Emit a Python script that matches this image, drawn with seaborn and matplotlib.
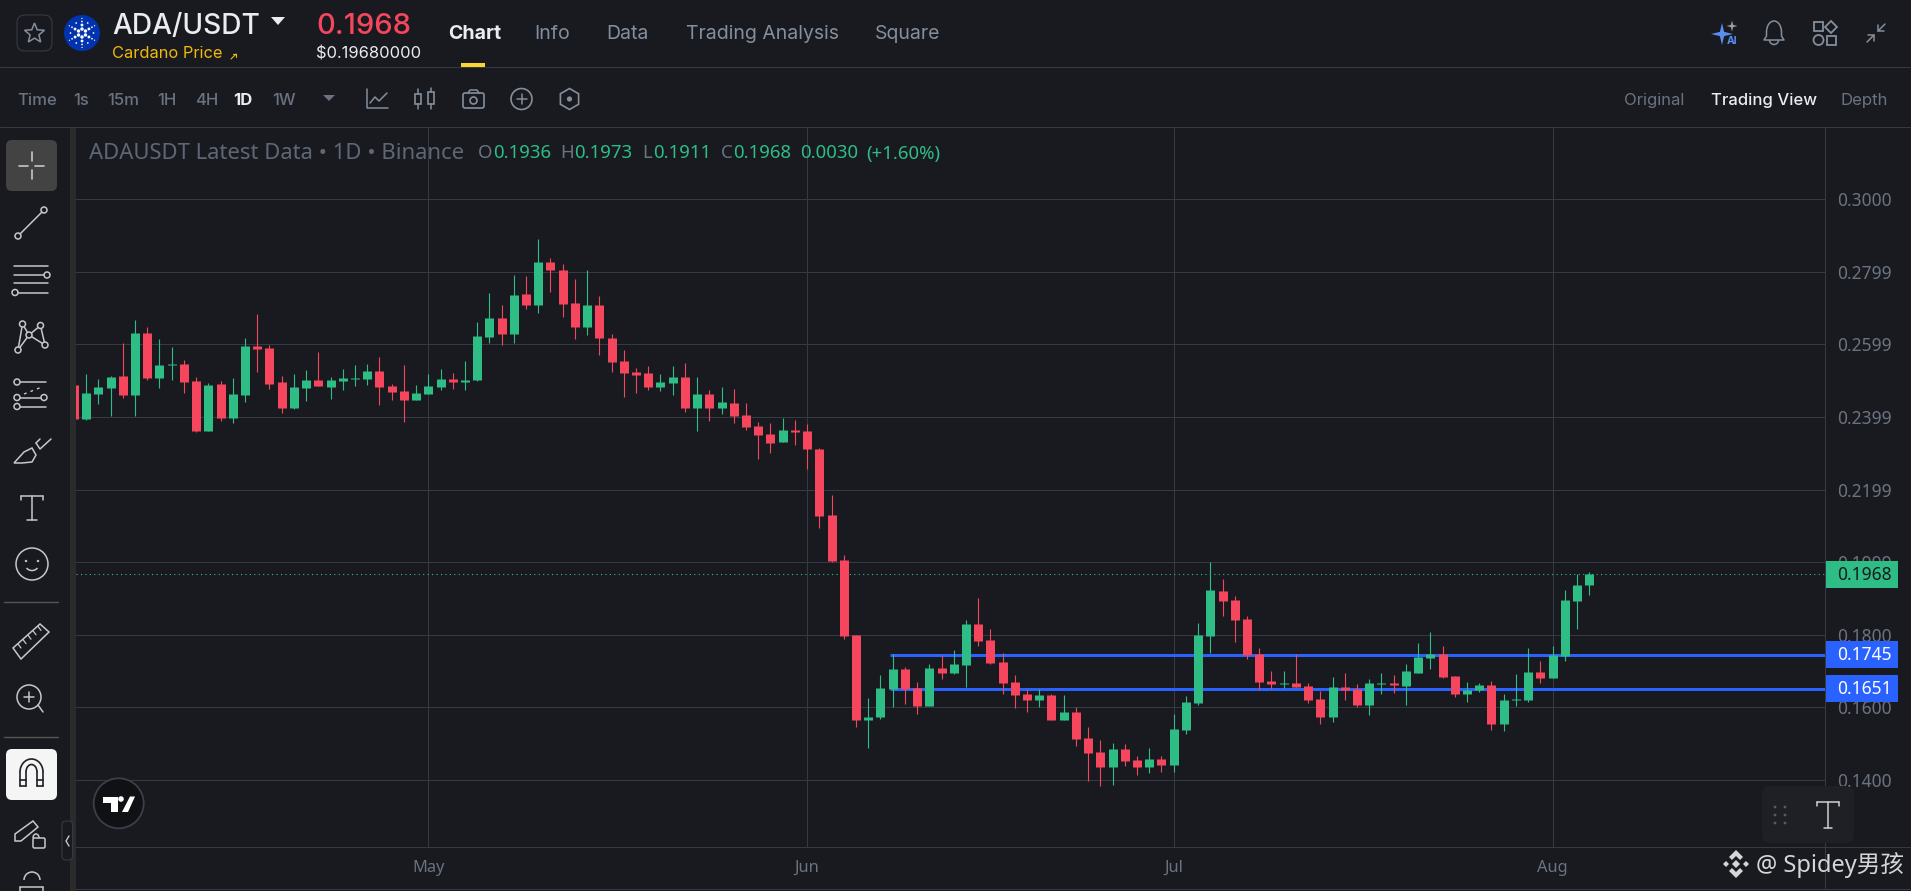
import numpy as np
import pandas as pd
import matplotlib
matplotlib.use("Agg")
import matplotlib.pyplot as plt
from matplotlib.patches import Circle, FancyBboxPatch, Polygon, Rectangle, Arc
import seaborn as sns

# daily ADA/USDT candles
open_prices = [.2487, .2394, .2463, .2479, .2512, .2460, .2630, .2507, .2542, .2545,
               .2498, .2361, .2490, .2397, .2460, .2595, .2589, .2496, .2424, .2479,
               .2501, .2482, .2498, .2504, .2504, .2526, .2485, .2471, .2446, .2463,
               .2482, .2504, .2496, .2501, .2619, .2672, .2628, .2738, .2707, .2826,
               .2804, .2713, .2647, .2707, .2617, .2553, .2523, .2520, .2482, .2493,
               .2509, .2424, .2463, .2424, .2438, .2405, .2375, .2353, .2331, .2364,
               .2361, .2311, .2130, .2006, .1800, .1566, .1574, .1651, .1706, .1654,
               .1604, .1709, .1695, .1717, .1830, .1786, .1725, .1670, .1637, .1621,
               .1635, .1566, .1588, .1516, .1478, .1436, .1486, .1456, .1436, .1458,
               .1442, .1539, .1613, .1797, .1921, .1896, .1844, .1748, .1674, .1665,
               .1668, .1660, .1624, .1575, .1657, .1652, .1608, .1665, .1668, .1660,
               .1696, .1737, .1748, .1687, .1638, .1649, .1663, .1555, .1621, .1621,
               .1698, .1682, .1742, .1894, .1936]
close_prices = [.2394, .2465, .2482, .2509, .2460, .2630, .2507, .2542, .2545, .2496,
                .2361, .2487, .2397, .2463, .2595, .2586, .2490, .2424, .2482, .2501,
                .2485, .2501, .2507, .2507, .2526, .2482, .2468, .2446, .2465, .2485,
                .2504, .2496, .2501, .2622, .2672, .2628, .2735, .2707, .2826, .2804,
                .2710, .2647, .2707, .2617, .2551, .2520, .2515, .2482, .2496, .2509,
                .2424, .2463, .2424, .2441, .2402, .2372, .2350, .2328, .2364, .2358,
                .2311, .2127, .2003, .1797, .1566, .1574, .1654, .1706, .1651, .1604,
                .1709, .1695, .1720, .1830, .1783, .1723, .1668, .1635, .1621, .1635,
                .1566, .1588, .1513, .1475, .1436, .1486, .1453, .1436, .1458, .1442,
                .1541, .1615, .1800, .1924, .1894, .1841, .1745, .1671, .1665, .1668,
                .1657, .1621, .1575, .1657, .1649, .1608, .1668, .1668, .1663, .1701,
                .1740, .1748, .1685, .1638, .1649, .1663, .1555, .1621, .1624, .1698,
                .1682, .1745, .1896, .1938, .1968]
high_prices = [.2490, .2518, .2504, .2512, .2603, .2666, .2647, .2614, .2592, .2556,
               .2509, .2493, .2498, .2507, .2617, .2683, .2597, .2512, .2518, .2529,
               .2578, .2509, .2531, .2542, .2545, .2564, .2490, .2542, .2487, .2518,
               .2531, .2520, .2553, .2661, .2740, .2707, .2790, .2787, .2889, .2837,
               .2820, .2779, .2806, .2732, .2628, .2584, .2534, .2540, .2518, .2540,
               .2548, .2509, .2474, .2482, .2476, .2438, .2386, .2383, .2397, .2391,
               .2380, .2314, .2185, .2020, .1800, .1626, .1690, .1747, .1712, .1670,
               .1720, .1745, .1758, .1841, .1901, .1816, .1750, .1690, .1651, .1651,
               .1637, .1635, .1601, .1546, .1511, .1502, .1500, .1467, .1489, .1467,
               .1582, .1632, .1833, .2001, .1954, .1907, .1852, .1764, .1701, .1701,
               .1748, .1668, .1646, .1685, .1696, .1665, .1679, .1696, .1690, .1720,
               .1778, .1808, .1770, .1687, .1671, .1668, .1674, .1638, .1693, .1764,
               .1729, .1770, .1924, .1968, .1973]
low_prices = [.2390, .2391, .2435, .2402, .2452, .2402, .2501, .2479, .2501, .2465,
              .2358, .2361, .2388, .2383, .2441, .2523, .2476, .2410, .2421, .2443,
              .2485, .2449, .2474, .2485, .2487, .2432, .2446, .2386, .2446, .2463,
              .2474, .2476, .2474, .2498, .2603, .2597, .2603, .2696, .2685, .2743,
              .2674, .2614, .2625, .2570, .2523, .2454, .2465, .2474, .2471, .2460,
              .2413, .2361, .2388, .2408, .2383, .2364, .2284, .2300, .2331, .2322,
              .2256, .2094, .2000, .1789, .1546, .1489, .1568, .1601, .1610, .1582,
              .1604, .1678, .1692, .1656, .1769, .1720, .1637, .1599, .1588, .1601,
              .1566, .1566, .1494, .1398, .1384, .1387, .1439, .1414, .1420, .1423,
              .1423, .1528, .1608, .1751, .1852, .1781, .1734, .1649, .1652, .1654,
              .1657, .1613, .1555, .1561, .1621, .1602, .1580, .1638, .1641, .1608,
              .1696, .1707, .1682, .1630, .1616, .1643, .1539, .1536, .1605, .1616,
              .1668, .1682, .1729, .1817, .1911]

first_day = "2026-04-02"
month_days = ["2026-05-01", "2026-06-01", "2026-07-01", "2026-08-01"]
month_labels = ["May", "Jun", "Jul", "Aug"]
price_ticks = [.30, .28, .26, .24, .22, .20, .18, .16, .14]
price_labels = ["0.3000", "0.2799", "0.2599", "0.2399", "0.2199", "0.1999", "0.1800", "0.1600", "0.1400"]
level_prices = [.1745, .1651]
level_labels = ["0.1745", "0.1651"]
last_price = .1968

BG = "#181A20"
GRID = "#363A45"
UP = "#2EBD85"
DOWN = "#F6465D"
BLUE = "#2962FF"
MUTED = "#848E9C"
AXIS_TEXT = "#6C7380"
ICON = "#C4C7CC"
W, H = 1911, 891

sns.set_theme(style="dark", rc={"axes.facecolor": BG, "figure.facecolor": BG})
plt.rcParams["font.family"] = ["Noto Sans", "Noto Sans CJK SC", "DejaVu Sans"]


def candle_frame(first, second):
    dates = pd.date_range(first_day, periods=len(open_prices))
    side = np.where(np.array(close_prices) >= np.array(open_prices), "up", "down")
    return pd.DataFrame({
        "date": np.tile(dates, 2),
        "price": np.concatenate([first, second]),
        "side": np.tile(side, 2),
    })


fig = plt.figure(figsize=(W / 100, H / 100), dpi=100)
ax = fig.add_axes([76 / W, (H - 847) / H, (1825 - 76) / W, (847 - 128) / H])
palette = {"up": UP, "down": DOWN}

# wicks and bodies are both vertical lines, one per day
sns.lineplot(data=candle_frame(low_prices, high_prices), x="date", y="price", units="date",
             hue="side", palette=palette, estimator=None, sort=False, legend=False, ax=ax,
             linewidth=0.8, solid_capstyle="butt", zorder=3)
sns.lineplot(data=candle_frame(open_prices, close_prices), x="date", y="price", units="date",
             hue="side", palette=palette, estimator=None, sort=False, legend=False, ax=ax,
             linewidth=6.48, solid_capstyle="butt", zorder=4)

may_first = pd.Timestamp(month_days[0])
ax.set_xlim(may_first - pd.Timedelta(days=28.83), may_first + pd.Timedelta(days=114.3))
ax.set_ylim(.12156, .31958)
ax.set(xlabel="", ylabel="")
ax.set_xticks(pd.to_datetime(month_days))
ax.set_xticklabels(month_labels, fontsize=11.8, fontweight="bold", color=AXIS_TEXT)
ax.set_yticks(price_ticks)
ax.set_yticklabels(price_labels, fontsize=12.5, color=AXIS_TEXT)
ax.yaxis.tick_right()
ax.tick_params(axis="y", length=0, pad=8.6)
ax.tick_params(axis="x", length=0, pad=9)
ax.grid(True, color=GRID, linewidth=0.72, zorder=0)
ax.set_axisbelow(True)
for name, spine in ax.spines.items():
    spine.set_visible(name in ("right", "bottom"))
    spine.set_color(GRID)
    spine.set_linewidth(0.72)

ax.hlines(level_prices, pd.Timestamp("2026-06-07 18:00"), ax.get_xlim()[1], colors=BLUE, linewidth=2.16, zorder=2)
ax.axhline(last_price, color=UP, linewidth=0.8, linestyle=(0, (1, 3)), zorder=2.5)

# everything around the chart goes on an overlay in pixel coordinates
ui = fig.add_axes([0, 0, 1, 1], zorder=5)
ui.set_xlim(0, W)
ui.set_ylim(H, 0)
ui.axis("off")
ui.patch.set_alpha(0)


def label(x, y, text, size, color=MUTED, weight="normal", ha="left", family=None, va="baseline"):
    kw = {"family": family} if family else {}
    return ui.text(x, y, text, fontsize=size, color=color, fontweight=weight, ha=ha, va=va, **kw)


def stroke(xs, ys, color=ICON, lw=1.1, **kw):
    ui.plot(xs, ys, color=color, linewidth=lw, solid_capstyle="round", **kw)


def ring(x, y, r, color=ICON, lw=1.1, fill="none"):
    ui.add_patch(Circle((x, y), r, edgecolor=color, facecolor=fill, linewidth=lw, zorder=2.5))


def box(x0, y0, x1, y1, color, r=4, edge="none", lw=0, zorder=0.5):
    ui.add_patch(FancyBboxPatch((x0, y0), x1 - x0, y1 - y0, boxstyle=f"round,pad=0,rounding_size={r}",
                                facecolor=color, edgecolor=edge, linewidth=lw, zorder=zorder))


def star_points(cx, cy, outer, inner, n=5):
    angles = -np.pi / 2 + np.arange(2 * n) * np.pi / n
    radii = np.where(np.arange(2 * n) % 2 == 0, outer, inner)
    return np.column_stack([cx + radii * np.cos(angles), cy + radii * np.sin(angles)])


# frame lines
for y in (67, 127):
    stroke([0, W], [y, y], color=GRID, lw=0.72)
stroke([76, W], [847, 847], color=GRID, lw=0.72)
stroke([76, W], [889, 889], color=GRID, lw=0.72)
stroke([1825, 1825], [847, 889], color=GRID, lw=0.72)
ui.add_patch(Rectangle((70, 127), 6, H - 127, facecolor="#2B2B2B", edgecolor="none"))

# header
box(17, 15, 52, 51, BG, r=8, edge=GRID, lw=0.8)
ui.add_patch(Polygon(star_points(34.5, 33.5, 10.5, 4.6), closed=True, facecolor="none", edgecolor=MUTED, linewidth=1.1))
ui.add_patch(Circle((82, 33), 18, facecolor="#0033AD", edgecolor="none"))
for r, n, s in ((4, 6, 2.4), (8, 6, 2.0), (11.5, 12, 1.2), (14.5, 6, 0.9)):
    for a in np.linspace(0, 2 * np.pi, n, endpoint=False):
        ui.add_patch(Circle((82 + r * np.cos(a + .52), 33 + r * np.sin(a + .52)), s / 1.4, facecolor="white", edgecolor="none"))
label(112, 34, "ADA/USDT", 20.2, "#EAECEF", "medium", family="Inter")
ui.add_patch(Polygon([[271, 17], [285, 17], [278, 25]], facecolor="#EAECEF", edgecolor="none"))
label(112, 58.5, "Cardano Price", 11.8, "#F0B90B", family="Inter")
stroke([231, 236], [59, 54], color="#F0B90B", lw=0.8)
stroke([233, 236, 236], [54, 54, 57], color="#F0B90B", lw=0.8)
label(316, 34, "0.1968", 21, DOWN, "medium", family="Inter")
label(316, 58.5, "$0.19680000", 11.9, "#EAECEF", family="Inter")
label(448, 39, "Chart", 14, "#EAECEF", "bold", family="Inter")
for x, text in ((534.5, "Info"), (606, "Data"), (686, "Trading Analysis"), (874.5, "Square")):
    label(x, 39, text, 14, MUTED, family="Inter")
ui.add_patch(Rectangle((461, 63), 24, 4, facecolor="#FCD535", edgecolor="none"))

# header icons on the right
ui.add_patch(Polygon(star_points(1722, 34, 11, 3, n=4), facecolor="#5B8DEF", edgecolor="none"))
ui.add_patch(Polygon(star_points(1732, 26, 5.5, 1.6, n=4), facecolor="#9AA0AA", edgecolor="none"))
label(1727, 44.5, "AI", 7.5, "#5B8DEF", "bold", family="Inter")
ui.add_patch(Arc((1774, 32), 15, 22, theta1=180, theta2=360, edgecolor=MUTED, linewidth=1.1))
stroke([1766.5, 1766.5, 1764, 1784, 1781.5, 1781.5], [32, 36, 40, 40, 36, 32], color=MUTED)
ui.add_patch(Arc((1774, 40), 9, 9, theta1=0, theta2=180, edgecolor=MUTED, linewidth=1.1))
ui.add_patch(Rectangle((1814, 22), 9, 9, facecolor="none", edgecolor=MUTED, linewidth=1.3))
ui.add_patch(Polygon([[1831, 21], [1837, 27], [1831, 33], [1825, 27]], facecolor="none", edgecolor=MUTED, linewidth=1.3))
ring(1818.5, 40, 5, MUTED, 1.3)
ui.add_patch(Rectangle((1827, 35.5), 9, 9, facecolor="none", edgecolor=MUTED, linewidth=1.3))
stroke([1867, 1874], [42, 35], color=MUTED)
stroke([1868, 1874, 1874], [35, 35, 41], color=MUTED)
stroke([1885, 1878], [24, 31], color=MUTED)
stroke([1878, 1878, 1884], [25, 31, 31], color=MUTED)

# timeframe row
for x, text, color in ((17, "Time", AXIS_TEXT), (73, "1s", AXIS_TEXT), (107, "15m", AXIS_TEXT), (157, "1H", AXIS_TEXT),
                       (195, "4H", AXIS_TEXT), (233, "1D", "#EAECEF"), (272, "1W", AXIS_TEXT)):
    label(x, 105, text, 12, color, "bold" if text == "1D" else "medium", family="Inter")
ui.add_patch(Polygon([[323, 95], [335, 95], [329, 101]], facecolor=AXIS_TEXT, edgecolor="none"))
stroke([367, 367, 388], [89, 108, 108], color=MUTED)
stroke([370, 375, 379, 387], [103, 97, 101, 93], color=MUTED)
for x, y0, y1, w0, w1 in ((418, 94, 104, 89, 109), (431, 92, 104, 88, 109)):
    ui.add_patch(Rectangle((x - 3, y0), 6, y1 - y0, facecolor="none", edgecolor=MUTED, linewidth=1.2))
    stroke([x, x], [w0, y0], color=MUTED)
    stroke([x, x], [y1, w1], color=MUTED)
box(463, 93, 484, 108, BG, r=2, edge=MUTED, lw=1.2)
stroke([468, 470, 477, 479], [93, 90, 90, 93], color=MUTED)
ring(473.5, 100.5, 3.5, MUTED, 1.2)
ring(521.5, 99, 10.5, MUTED, 1.2)
stroke([516.5, 526.5], [99, 99], color=MUTED)
stroke([521.5, 521.5], [94, 104], color=MUTED)
ui.add_patch(Polygon(star_points(569.5, 99, 10.5, 10.5, n=3), facecolor="none", edgecolor=MUTED, linewidth=1.2))
ui.add_patch(Circle((569.5, 99), 2.6, facecolor=MUTED, edgecolor="none"))
label(1624, 105, "Original", 12, AXIS_TEXT, family="Inter")
label(1711, 105, "Trading View", 12, "#EAECEF", "medium", family="Inter")
label(1840, 105, "Depth", 12, AXIS_TEXT, family="Inter")

# legend line of the chart
label(89, 159, "ADAUSDT Latest Data • 1D • Binance", 15.9, "#5F6774")
for x, text, color in ((477.5, "O", AXIS_TEXT), (493, "0.1936", UP), (560, "H", AXIS_TEXT), (574.5, "0.1973", UP),
                       (642, "L", AXIS_TEXT), (653, "0.1911", UP), (721, "C", AXIS_TEXT), (733, "0.1968", UP),
                       (800, "0.0030", UP), (866.5, "(+1.60%)", UP)):
    label(x, 158.5, text, 13.4, color)

# price tags on the axis
for y0, text, color, text_color in ((561, "0.1968", UP, BG), (641, level_labels[0], BLUE, "white"), (675, level_labels[1], BLUE, "white")):
    ui.add_patch(Rectangle((1826, y0), 72, 26.7, facecolor=color, edgecolor="none"))
    label(1837, y0 + 19, text, 12.5, text_color, "bold" if color == BLUE else "medium")

# left toolbar
box(6, 140, 57, 191, "#434343", r=6)
stroke([31.5, 31.5], [152, 161], lw=1.2)
stroke([31.5, 31.5], [170, 179], lw=1.2)
stroke([19, 28], [165.5, 165.5], lw=1.2)
stroke([35, 44], [165.5, 165.5], lw=1.2)
# trend line
stroke([20, 42], [234, 212], lw=1.1)
ring(18, 236, 3)
ring(44, 210, 3)
# parallel channel
for y, x0, x1 in ((266, 14, 48), (275, 14, 44), (283, 14, 48), (292.5, 18, 48)):
    stroke([x0, x1], [y, y])
ring(47, 275, 3)
ring(15, 292.5, 3)
# pattern
for a, b in (((22.5, 324), (29, 335)), ((29, 335), (40.5, 325.5)), ((40.5, 325.5), (45, 345)), ((29, 335), (18, 350)), ((22.5, 324), (18, 350)), ((29, 335), (45, 345))):
    stroke([a[0], b[0]], [a[1], b[1]])
for x, y in ((22.5, 324), (40.5, 325.5), (29, 335), (18, 350), (45, 345)):
    ring(x, y, 3, fill=BG)
# fib
stroke([19, 46], [382, 382])
stroke([19, 42], [397.5, 397.5])
stroke([19, 46], [406.5, 406.5])
stroke([24, 42], [394, 387], lw=1, linestyle=(0, (2, 3)))
for x, y in ((17, 382), (17, 397.5), (17, 406.5), (44, 397.5)):
    ring(x, y, 3, fill=BG)
# brush
ui.add_patch(Polygon([[14, 463], [24, 452], [32, 448], [36, 455], [32, 462], [22, 463]], facecolor="none", edgecolor=ICON, linewidth=1.1))
stroke([36, 40, 51], [443, 449, 439])
stroke([36, 40], [443, 439])
# text tool
stroke([21, 43], [496, 496], lw=1.1)
stroke([21, 21], [496, 500], lw=1.1)
stroke([43, 43], [496, 500], lw=1.1)
stroke([32, 32], [496, 520], lw=1.1)
stroke([27, 37], [520, 520], lw=1.1)
# smile
ring(32, 564, 16)
ui.add_patch(Arc((32, 566), 12, 9, theta1=20, theta2=160, edgecolor=ICON, linewidth=1.1))
ui.add_patch(Circle((26, 561), 1.2, facecolor=ICON, edgecolor="none"))
ui.add_patch(Circle((38, 561), 1.2, facecolor=ICON, edgecolor="none"))
stroke([4, 58], [602, 602], color="#555555", lw=1)
# ruler
ui.add_patch(Polygon([[13, 648], [40, 624], [49, 632], [21, 659]], facecolor="none", edgecolor=ICON, linewidth=1.1))
for k in range(5):
    xt = 18 + k * 5
    yt = 644 - k * 4.4
    stroke([xt, xt + 3], [yt, yt + 4], lw=0.9)
# zoom
ring(29, 697, 12)
stroke([38, 43], [705, 712])
stroke([24, 34], [696.5, 696.5])
stroke([29, 29], [691.5, 701.5])
stroke([4, 58], [737, 737], color="#555555", lw=1)
# magnet button
box(6, 749, 57, 800, "#F5F5F5", r=6)
ui.add_patch(Arc((31.5, 772), 23, 26, theta1=180, theta2=360, edgecolor="#1E2026", linewidth=1.2, zorder=3))
ui.add_patch(Arc((31.5, 772), 11, 15, theta1=180, theta2=360, edgecolor="#1E2026", linewidth=1.2, zorder=3))
for x0 in (20, 37):
    stroke([x0, x0], [772, 786], color="#1E2026", lw=1.2)
    stroke([x0 + 6, x0 + 6], [772, 786], color="#1E2026", lw=1.2)
    stroke([x0, x0 + 6], [786, 786], color="#1E2026", lw=1.2)
    stroke([x0, x0 + 6], [780, 780], color="#1E2026", lw=1.2)
# pencil with lock
ui.add_patch(Polygon([[15, 841], [15, 834], [33, 821], [38, 827], [21, 841]], facecolor="none", edgecolor=ICON, linewidth=1.1))
box(33, 838, 45, 848, BG, r=1.5, edge=ICON, lw=1.1, zorder=3)
ui.add_patch(Arc((36, 838), 6, 8, theta1=180, theta2=360, edgecolor=ICON, linewidth=1.1, zorder=3))
# bottom tool, cut by the image edge
ui.add_patch(Arc((32, 880), 16, 16, theta1=180, theta2=360, edgecolor=ICON, linewidth=1.1))
stroke([20, 43], [887, 887])
stroke([20, 20], [887, 891])
stroke([43, 43], [887, 891])
box(62, 821, 72.5, 860, BG, r=4, edge=GRID, lw=0.8, zorder=3)
stroke([69, 66, 69], [836, 841, 846], lw=1, zorder=4)

# tradingview badge
ui.add_patch(Circle((118.7, 803.3), 25, facecolor="#101114", edgecolor="#3B3F48", linewidth=1.3))
ui.add_patch(Polygon([[103, 796.5], [118, 796.5], [118, 812], [111, 812], [111, 803], [103, 803]], facecolor="white", edgecolor="none"))
ui.add_patch(Polygon([[122, 812], [130, 796.5], [135, 796.5], [128, 812]], facecolor="white", edgecolor="none"))
ui.add_patch(Circle((121, 799), 2.8, facecolor="white", edgecolor="none"))

# floating text widget
box(1762, 786, 1854, 843, "#1E2025", r=9, zorder=1.5)
for dx in (1775, 1785):
    for dy in (807, 815, 823):
        ui.add_patch(Circle((dx, dy), 1.4, facecolor="#555A63", edgecolor="none", zorder=3))
stroke([1817, 1839], [802, 802], color="#D0D0D0", lw=1.1, zorder=3)
stroke([1817, 1817], [802, 806], color="#D0D0D0", lw=1.1, zorder=3)
stroke([1839, 1839], [802, 806], color="#D0D0D0", lw=1.1, zorder=3)
stroke([1828, 1828], [802, 828], color="#D0D0D0", lw=1.1, zorder=3)
stroke([1824, 1832], [828, 828], color="#D0D0D0", lw=1.1, zorder=3)

# watermark
mark = "#D6D6D6"
for cx, cy, s in ((1736, 864, 4), (1726, 864, 3), (1746, 864, 3)):
    ui.add_patch(Polygon([[cx - s, cy], [cx, cy - s], [cx + s, cy], [cx, cy + s]], facecolor=mark, edgecolor="none"))
ui.add_patch(Polygon([[1729, 857], [1736, 850], [1743, 857], [1740, 860], [1736, 856], [1732, 860]], facecolor=mark, edgecolor="none"))
ui.add_patch(Polygon([[1729, 871], [1736, 878], [1743, 871], [1740, 868], [1736, 872], [1732, 868]], facecolor=mark, edgecolor="none"))
label(1756, 872, "@ Spidey男孩", 17, mark, family=["Noto Sans", "Noto Sans CJK SC"])

fig.savefig("out.png", dpi=100, facecolor=BG)
